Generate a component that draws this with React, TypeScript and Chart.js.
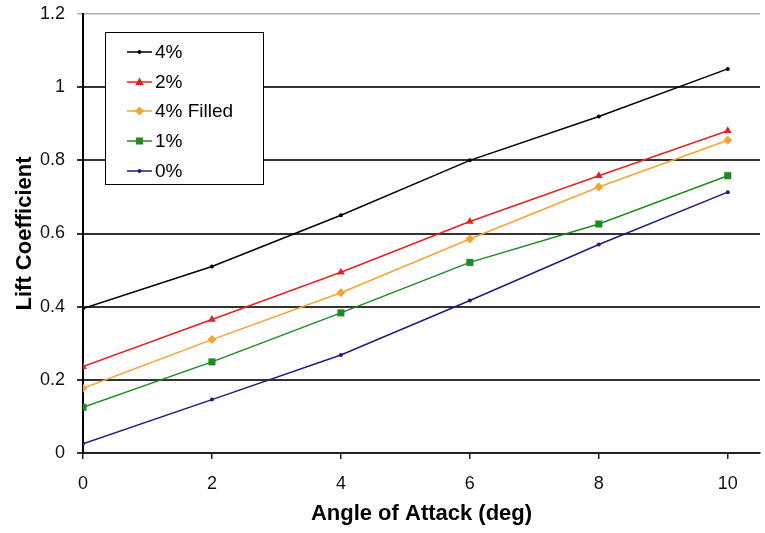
import React, { useEffect, useRef } from "react";
import { Chart, registerables } from "chart.js";

Chart.register(...registerables);

const angles = [0, 2, 4, 6, 8, 10];
const seriesLabels = ["4%", "2%", "4% Filled", "1%", "0%"];
const lift4 = [0.395, 0.51, 0.65, 0.8, 0.92, 1.05];
const lift2 = [0.236, 0.365, 0.494, 0.633, 0.758, 0.881];
const lift4Filled = [0.177, 0.31, 0.438, 0.585, 0.727, 0.855];
const lift1 = [0.125, 0.249, 0.383, 0.521, 0.626, 0.758];
const lift0 = [0.025, 0.146, 0.268, 0.417, 0.57, 0.713];
const xTicks = [0, 2, 4, 6, 8, 10];
const yTicks = [0, 0.2, 0.4, 0.6, 0.8, 1, 1.2];
const yTickLabels = ["0", "0.2", "0.4", "0.6", "0.8", "1", "1.2"];

const colors = ["#000000", "#e02424", "#f5a431", "#1f8a22", "#1d1d7e"];
const styles = ["circle", "triangle", "rectRot", "rect", "circle"];
const radii = [2, 4.5, 4.5, 5, 2];

const FONT = "'Liberation Sans', Arial, sans-serif";

function drawMarker(ctx: CanvasRenderingContext2D, style: string, x: number, y: number, r: number, color: string) {
  ctx.save();
  ctx.fillStyle = color;
  ctx.beginPath();
  if (style === "circle") {
    ctx.arc(x, y, r, 0, Math.PI * 2);
  } else if (style === "triangle") {
    ctx.moveTo(x, y - r);
    ctx.lineTo(x + r * 0.95, y + r * 0.65);
    ctx.lineTo(x - r * 0.95, y + r * 0.65);
    ctx.closePath();
  } else if (style === "rectRot") {
    ctx.moveTo(x, y - r);
    ctx.lineTo(x + r, y);
    ctx.lineTo(x, y + r);
    ctx.lineTo(x - r, y);
    ctx.closePath();
  } else {
    const s = r * Math.SQRT1_2;
    ctx.rect(x - s, y - s, 2 * s, 2 * s);
  }
  ctx.fill();
  ctx.restore();
}

const legendPlugin = {
  id: "boxLegend",
  afterDraw(chart: any) {
    const ctx = chart.ctx as CanvasRenderingContext2D;
    const left = 105.5, top = 32.5, w = 158, h = 152;
    ctx.save();
    ctx.fillStyle = "#ffffff";
    ctx.fillRect(left, top, w, h);
    ctx.strokeStyle = "#000000";
    ctx.lineWidth = 1;
    ctx.strokeRect(left, top, w, h);
    const rowY = [52, 82, 111, 141, 171];
    chart.data.datasets.forEach((ds: any, i: number) => {
      const y = rowY[i];
      ctx.strokeStyle = ds.borderColor;
      ctx.lineWidth = 1.5;
      ctx.beginPath();
      ctx.moveTo(127, y);
      ctx.lineTo(152, y);
      ctx.stroke();
      drawMarker(ctx, ds.pointStyle, 139.5, y, ds.pointRadius, ds.borderColor);
      ctx.fillStyle = "#000000";
      ctx.font = `19px ${FONT}`;
      ctx.textBaseline = "middle";
      ctx.textAlign = "left";
      ctx.fillText(ds.label, 155, y + 1);
    });
    ctx.restore();
  },
};

function zeroPad(s: any) {
  s.paddingTop = 0;
  s.paddingBottom = 0;
  s.paddingLeft = 0;
  s.paddingRight = 0;
}

export default function App() {
  const ref = useRef<HTMLCanvasElement>(null);
  useEffect(() => {
    if (!ref.current) return;
    const series = [lift4, lift2, lift4Filled, lift1, lift0];
    const chart = new Chart(ref.current, {
      type: "line",
      data: {
        datasets: series.map((vals, i) => ({
          label: seriesLabels[i],
          data: angles.map((a, j) => ({ x: a, y: vals[j] })),
          borderColor: colors[i],
          backgroundColor: colors[i],
          borderWidth: 1.5,
          pointStyle: styles[i] as any,
          pointRadius: radii[i],
          pointBorderWidth: 0,
          tension: 0,
        })),
      },
      options: {
        responsive: false,
        animation: false,
        layout: { padding: { top: 14, right: 0, bottom: 0, left: 0 } },
        plugins: { legend: { display: false }, tooltip: { enabled: false } },
        scales: {
          x: {
            type: "linear",
            min: 0,
            max: 10.5,
            afterBuildTicks: (s: any) => {
              s.ticks = xTicks.map((v) => ({ value: v }));
            },
            afterFit: (s: any) => {
              s.height = 80;
              zeroPad(s);
            },
            grid: {
              drawOnChartArea: false,
              drawTicks: true,
              tickLength: 6,
              color: "#222222",
              lineWidth: 1.5,
            },
            border: { color: "#222222", width: 2 },
            ticks: {
              color: "#111111",
              font: { family: FONT, size: 18 },
              padding: 14,
              maxRotation: 0,
              callback: (v: any) => String(v),
            },
            title: {
              display: true,
              text: "Angle of Attack (deg)",
              color: "#000000",
              font: { family: FONT, size: 22, weight: "bold" },
              padding: { top: 0, bottom: 6 },
            },
          },
          y: {
            type: "linear",
            min: 0,
            max: 1.2,
            afterBuildTicks: (s: any) => {
              s.ticks = yTicks.map((v) => ({ value: v }));
            },
            afterFit: (s: any) => {
              s.width = 83;
              zeroPad(s);
            },
            grid: {
              drawOnChartArea: true,
              drawTicks: true,
              tickLength: 6,
              color: (c: any) => (c.tick && c.tick.value > 1.1 ? "#b0b0b0" : "#333333"),
              lineWidth: (c: any) => (c.tick && c.tick.value > 1.1 ? 1.5 : 2),
            },
            border: { color: "#000000", width: 2 },
            ticks: {
              color: "#111111",
              font: { family: FONT, size: 18 },
              padding: 12,
              callback: (v: any, i: number) => yTickLabels[i],
            },
            title: {
              display: true,
              text: "Lift Coefficient",
              color: "#000000",
              font: { family: FONT, size: 22, weight: "bold" },
              padding: { top: 12, bottom: 0 },
            },
          },
        },
      },
      plugins: [legendPlugin],
    });
    return () => chart.destroy();
  }, []);
  return (
    <div style={{ position: "absolute", left: 0, top: 0, width: 765, height: 533, background: "#fff" }}>
      <canvas ref={ref} width={765} height={533} />
    </div>
  );
}
